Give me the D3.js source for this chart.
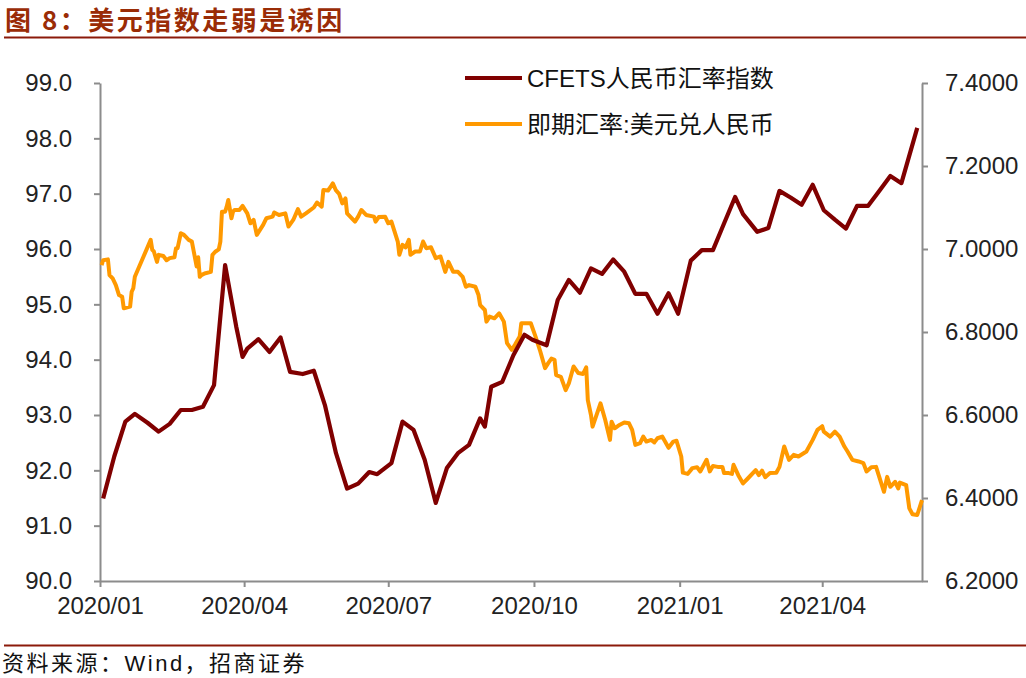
<!DOCTYPE html>
<html><head><meta charset="utf-8">
<script src="https://cdn.jsdelivr.net/npm/d3@7"></script>
<style>
body{margin:0;background:#fff;}
svg{display:block;}
</style></head>
<body>
<svg id="chart" width="1026" height="678"></svg>
<script>
// ---- Data ----
const titleText = "图 8：美元指数走弱是诱因";
const sourceText = "资料来源：Wind，招商证券";
const seriesNames = ["CFETS人民币汇率指数", "即期汇率:美元兑人民币"];

// CFETS RMB index (left axis), weekly
const cfetsDates = ["2020-01-03","2020-01-10","2020-01-17","2020-01-23","2020-01-31","2020-02-07","2020-02-14","2020-02-21","2020-02-28","2020-03-06","2020-03-13","2020-03-20","2020-03-27","2020-03-31","2020-04-03","2020-04-10","2020-04-17","2020-04-24","2020-04-30","2020-05-08","2020-05-15","2020-05-22","2020-05-29","2020-06-05","2020-06-12","2020-06-19","2020-06-24","2020-07-03","2020-07-10","2020-07-17","2020-07-24","2020-07-31","2020-08-07","2020-08-14","2020-08-21","2020-08-28","2020-08-31","2020-09-04","2020-09-11","2020-09-18","2020-09-25","2020-09-30","2020-10-09","2020-10-16","2020-10-23","2020-10-30","2020-11-06","2020-11-13","2020-11-20","2020-11-27","2020-12-04","2020-12-11","2020-12-18","2020-12-25","2020-12-31","2021-01-08","2021-01-15","2021-01-22","2021-01-29","2021-02-05","2021-02-10","2021-02-19","2021-02-26","2021-03-05","2021-03-12","2021-03-19","2021-03-26","2021-04-02","2021-04-09","2021-04-16","2021-04-23","2021-04-30","2021-05-07","2021-05-14","2021-05-21","2021-05-31"];
const cfetsValues = [91.49,92.25,92.88,93.02,92.86,92.70,92.84,93.09,93.09,93.15,93.54,95.71,94.60,94.05,94.20,94.37,94.14,94.40,93.78,93.74,93.80,93.18,92.31,91.67,91.76,91.97,91.93,92.13,92.88,92.73,92.19,91.41,92.04,92.31,92.46,92.94,92.79,93.51,93.60,94.08,94.45,94.36,94.26,95.08,95.44,95.21,95.65,95.55,95.81,95.59,95.19,95.19,94.83,95.20,94.83,95.79,95.98,95.98,96.46,96.94,96.63,96.31,96.38,97.05,96.93,96.80,97.16,96.70,96.53,96.37,96.78,96.78,97.05,97.32,97.19,98.19];

// USD/CNY spot (right axis): days since 2020-01-01 and values
const usdcnyDay = [1,2,5,6,8,10,12,14,15,19,20,21,22,32,33,34,36,37,40,42,44,47,48,49,51,53,56,58,60,61,62,63,64,66,70,71,73,75,76,77,79,80,81,83,84,85,88,90,93,95,97,99,101,103,105,109,110,113,117,119,122,125,127,130,135,137,140,141,144,146,147,149,151,153,155,156,161,163,165,168,173,174,176,180,182,184,186,188,189,191,193,195,196,199,202,204,206,209,212,215,218,220,223,226,229,231,233,237,239,240,243,244,246,249,252,255,257,260,262,265,266,269,272,275,278,281,283,285,287,288,291,294,296,299,302,305,307,308,310,311,316,319,322,323,325,328,331,334,336,338,341,343,345,348,350,352,355,359,362,364,367,368,371,374,377,379,383,385,387,390,393,394,397,399,400,403,406,409,414,416,418,420,423,427,429,432,435,438,441,446,450,453,456,457,461,464,467,470,472,475,479,482,484,487,490,495,497,499,502,504,505,509,511,513,516,519];
const usdcnyValues = [6.961,6.973,6.975,6.937,6.929,6.913,6.889,6.885,6.857,6.861,6.897,6.905,6.933,7.022,6.998,6.994,6.969,6.986,6.983,6.973,6.978,6.980,7.002,7.002,7.038,7.034,7.022,7.018,6.978,6.958,6.980,6.933,6.937,6.941,6.945,6.986,6.994,6.999,7.018,7.090,7.090,7.102,7.118,7.074,7.090,7.094,7.094,7.104,7.086,7.062,7.070,7.034,7.046,7.058,7.074,7.078,7.088,7.082,7.086,7.054,7.070,7.096,7.078,7.086,7.100,7.112,7.102,7.142,7.141,7.152,7.158,7.141,7.133,7.110,7.122,7.086,7.066,7.078,7.094,7.082,7.078,7.066,7.077,7.078,7.062,7.066,7.042,7.018,6.986,7.010,7.004,7.022,6.986,6.994,6.994,7.018,7.002,7.004,6.978,6.982,6.945,6.969,6.945,6.945,6.933,6.909,6.913,6.909,6.889,6.865,6.853,6.825,6.837,6.833,6.845,6.825,6.773,6.757,6.769,6.789,6.821,6.821,6.821,6.789,6.753,6.713,6.725,6.736,6.733,6.696,6.692,6.660,6.676,6.717,6.701,6.699,6.715,6.636,6.600,6.572,6.628,6.588,6.540,6.584,6.568,6.576,6.582,6.580,6.564,6.528,6.532,6.548,6.536,6.540,6.534,6.544,6.548,6.521,6.536,6.538,6.500,6.461,6.458,6.472,6.474,6.464,6.492,6.464,6.477,6.475,6.475,6.460,6.460,6.458,6.480,6.455,6.435,6.447,6.467,6.455,6.466,6.450,6.460,6.461,6.475,6.524,6.492,6.504,6.500,6.512,6.540,6.564,6.573,6.560,6.548,6.560,6.548,6.524,6.512,6.492,6.488,6.484,6.464,6.474,6.475,6.415,6.451,6.427,6.439,6.423,6.437,6.431,6.375,6.361,6.359,6.395];

const leftTicks = [90,91,92,93,94,95,96,97,98,99];
const rightTicks = [6.2,6.4,6.6,6.8,7.0,7.2,7.4];
const xTickDates = ["2020-01-01","2020-04-01","2020-07-01","2020-10-01","2021-01-01","2021-04-01"];
const xDomain = ["2020-01-01","2021-06-03"];

// ---- Chart ----
const parse = d3.timeParse("%Y-%m-%d");
const base = parse("2020-01-01");
const svg = d3.select("#chart");
const M = {left:100, right:922, top:83, bottom:581};
const RED = "#800000", ORANGE = "#FF9900", AXIS = "#8c8c8c", TITLE = "#9a2c06", RULE = "#8b1a0a";
const numFont = "'Liberation Sans', Arial, sans-serif";
const cjkFont = "'Liberation Sans', Arial, 'Noto Sans CJK SC', sans-serif";

const x = d3.scaleTime().domain(xDomain.map(parse)).range([M.left, M.right]);
const yL = d3.scaleLinear().domain([90,99]).range([M.bottom, M.top]);
const yR = d3.scaleLinear().domain([6.2,7.4]).range([M.bottom, M.top]);

// title
svg.append("text").attr("x",5).attr("y",30).text(titleText)
  .attr("font-family","'Noto Sans CJK SC', sans-serif").attr("font-weight","bold")
  .attr("font-size",26).attr("letter-spacing",2.5).attr("fill",TITLE);
svg.append("line").attr("x1",4).attr("x2",1026).attr("y1",37.5).attr("y2",37.5)
  .attr("stroke",RULE).attr("stroke-width",2);
svg.append("line").attr("x1",4).attr("x2",1026).attr("y1",645.5).attr("y2",645.5)
  .attr("stroke",RULE).attr("stroke-width",2);
svg.append("text").attr("x",2).attr("y",671).text(sourceText)
  .attr("font-family",cjkFont).attr("font-size",22).attr("letter-spacing",2.5).attr("fill","#111");

function styleAxis(g){
  g.select(".domain").attr("stroke",AXIS).attr("stroke-width",2);
  g.selectAll(".tick line").attr("stroke",AXIS).attr("stroke-width",2);
  g.selectAll(".tick text").attr("fill","#222").attr("font-family",numFont).attr("font-size",24);
}

const gL = svg.append("g").attr("transform",`translate(${M.left},0)`)
  .call(d3.axisLeft(yL).tickValues(leftTicks).tickFormat(d3.format(".1f")).tickSize(6).tickSizeOuter(0).tickPadding(22));
styleAxis(gL);
const gR = svg.append("g").attr("transform",`translate(${M.right},0)`)
  .call(d3.axisRight(yR).tickValues(rightTicks).tickFormat(d3.format(".4f")).tickSize(6).tickSizeOuter(0).tickPadding(17));
styleAxis(gR);
const gX = svg.append("g").attr("transform",`translate(0,${M.bottom})`)
  .call(d3.axisBottom(x).tickValues(xTickDates.map(parse)).tickFormat(d3.timeFormat("%Y/%m")).tickSize(6).tickSizeOuter(0).tickPadding(10));
styleAxis(gX);

// lines
const usdData = usdcnyDay.map((d,i)=>({date:d3.timeDay.offset(base,d), v:usdcnyValues[i]}));
const cfData = cfetsDates.map((d,i)=>({date:parse(d), v:cfetsValues[i]}));

svg.append("path").datum(usdData)
  .attr("fill","none").attr("stroke",ORANGE).attr("stroke-width",4).attr("stroke-linejoin","round")
  .attr("d", d3.line().x(d=>x(d.date)).y(d=>yR(d.v)));
svg.append("path").datum(cfData)
  .attr("fill","none").attr("stroke",RED).attr("stroke-width",4.2).attr("stroke-linejoin","round")
  .attr("d", d3.line().x(d=>x(d.date)).y(d=>yL(d.v)));

// legend
const legend = [{name:seriesNames[0], color:RED, y:78},{name:seriesNames[1], color:ORANGE, y:124}];
const lg = svg.append("g");
legend.forEach(l=>{
  lg.append("line").attr("x1",465).attr("x2",522).attr("y1",l.y).attr("y2",l.y)
    .attr("stroke",l.color).attr("stroke-width",4.2);
  lg.append("text").attr("x",527).attr("y",l.y).attr("dy","0.36em").text(l.name)
    .attr("font-family",cjkFont).attr("font-size",24).attr("fill","#111");
});
</script>
</body></html>
